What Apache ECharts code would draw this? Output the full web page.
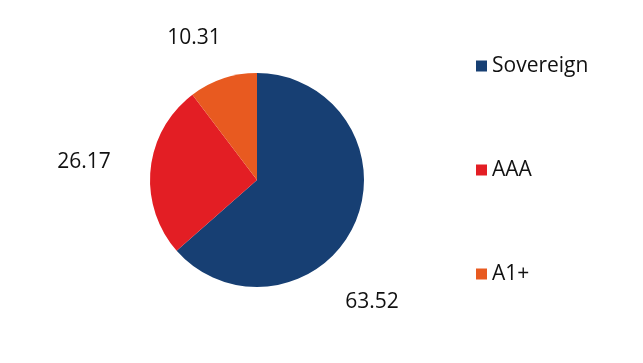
<!DOCTYPE html>
<html>
<head>
<meta charset="utf-8">
<script src="https://cdn.jsdelivr.net/npm/echarts@6/dist/echarts.min.js"></script>
<style>html,body{margin:0;padding:0;background:#fff;}#c{width:643px;height:363px;}</style>
</head>
<body>
<div id="c"></div>
<script>
const categories = ['Sovereign', 'AAA', 'A1+'];
const values = [63.52, 26.17, 10.31];
const colors = ['#173f73', '#e31e24', '#e85a20'];
const labelPos = [[372, 302], [84, 162], [194, 38]];

const chart = echarts.init(document.getElementById('c'), null, {renderer: 'canvas'});
chart.setOption({
  animation: false,
  color: colors,
  legend: {
    orient: 'vertical',
    left: 471,
    top: 49,
    padding: 5,
    icon: 'rect',
    itemWidth: 11,
    itemHeight: 11,
    itemGap: 80,
    data: categories,
    textStyle: {fontFamily: 'Open Sans', fontSize: 21, color: '#111', lineHeight: 24}
  },
  series: [{
    type: 'pie',
    center: [257, 180],
    radius: 107,
    startAngle: 90,
    clockwise: true,
    data: categories.map((c, i) => ({name: c, value: values[i]})),
    label: {
      show: true,
      formatter: p => p.value.toFixed(2),
      fontFamily: 'Open Sans',
      fontSize: 21,
      color: '#111'
    },
    labelLine: {show: false},
    labelLayout: function (p) {
      const pos = labelPos[p.dataIndex];
      return {x: pos[0], y: pos[1], align: 'center', verticalAlign: 'middle'};
    },
    itemStyle: {borderWidth: 0}
  }]
});
</script>
</body>
</html>
